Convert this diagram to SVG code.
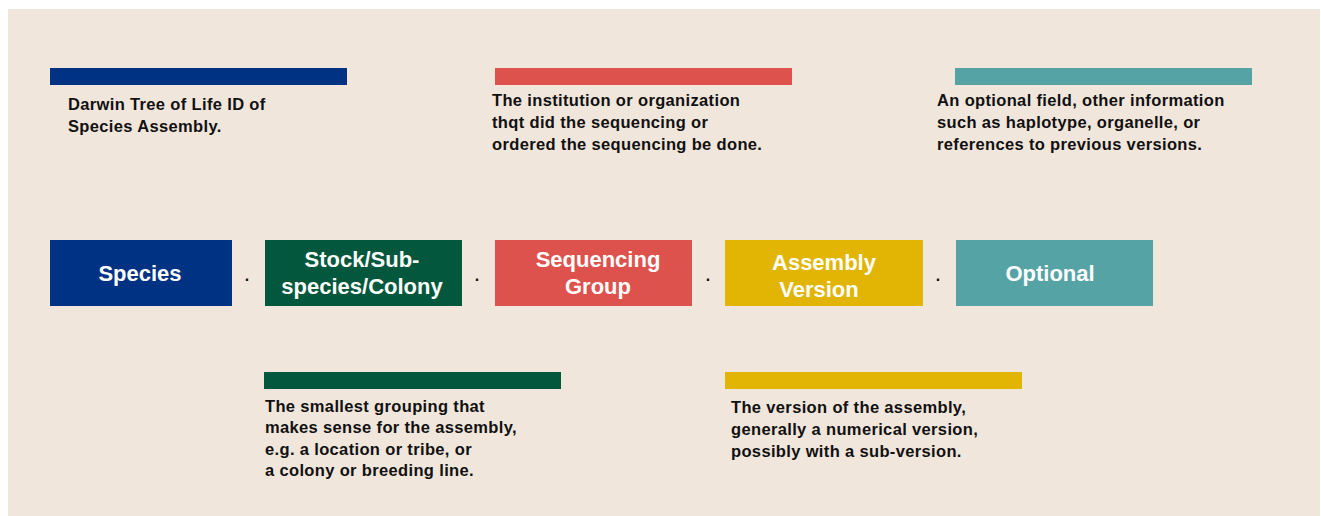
<svg xmlns="http://www.w3.org/2000/svg" width="1321" height="516" viewBox="0 0 1321 516">
<style>
.bg{fill:#F1E6DB}
.box-t{font-family:"Liberation Sans",Arial,sans-serif;font-weight:bold;font-size:22px;fill:#ffffff;text-anchor:middle}
.desc{font-family:"Liberation Sans",Arial,sans-serif;font-weight:bold;font-size:16.5px;letter-spacing:0.35px;fill:#111111}
.sep{font-family:"Liberation Sans",Arial,sans-serif;font-weight:bold;font-size:16px;fill:#111111;text-anchor:middle}
.blue{fill:#003283}.green{fill:#03573D}.red{fill:#DE524D}.yellow{fill:#E2B505}.teal{fill:#56A3A6}
</style>
<rect x="0" y="0" width="1321" height="516" fill="#ffffff"/>
<rect class="bg" x="8" y="9" width="1312" height="507"/>

<g id="species">
<rect class="blue" x="50" y="240" width="182" height="66"/>
<text class="box-t" x="140" y="281">Species</text>
</g>
<g id="stock">
<rect class="green" x="265" y="240" width="197" height="66"/>
<text class="box-t" x="362" y="267">Stock/Sub-</text>
<text class="box-t" x="362" y="294">species/Colony</text>
</g>
<g id="sequencing-group">
<rect class="red" x="495" y="240" width="197" height="66"/>
<text class="box-t" x="598" y="267">Sequencing</text>
<text class="box-t" x="598" y="294">Group</text>
</g>
<g id="assembly-version">
<rect class="yellow" x="725" y="240" width="198" height="66"/>
<text class="box-t" x="824" y="270">Assembly</text>
<text class="box-t" x="819" y="297">Version</text>
</g>
<g id="optional">
<rect class="teal" x="956" y="240" width="197" height="66"/>
<text class="box-t" x="1050" y="281">Optional</text>
</g>

<g id="connectors">
<text class="sep" x="247" y="281">.</text>
<text class="sep" x="477" y="281">.</text>
<text class="sep" x="708" y="281">.</text>
<text class="sep" x="938" y="281">.</text>
</g>

<g id="desc-species">
<rect class="blue" x="50" y="68" width="297" height="17"/>
<text class="desc" x="68" y="110">Darwin Tree of Life ID of</text>
<text class="desc" x="68" y="132">Species Assembly.</text>
</g>
<g id="desc-sequencing">
<rect class="red" x="495" y="68" width="297" height="17"/>
<text class="desc" x="492" y="106">The institution or organization</text>
<text class="desc" x="492" y="128">thqt did the sequencing or</text>
<text class="desc" x="492" y="149.5">ordered the sequencing be done.</text>
</g>
<g id="desc-optional">
<rect class="teal" x="955" y="68" width="297" height="17"/>
<text class="desc" x="937" y="106">An optional field, other information</text>
<text class="desc" x="937" y="128">such as haplotype, organelle, or</text>
<text class="desc" x="937" y="149.5">references to previous versions.</text>
</g>
<g id="desc-stock">
<rect class="green" x="264" y="372" width="297" height="17"/>
<text class="desc" x="265" y="411.5">The smallest grouping that</text>
<text class="desc" x="265" y="433">makes sense for the assembly,</text>
<text class="desc" x="265" y="454.5">e.g. a location or tribe, or</text>
<text class="desc" x="265" y="476">a colony or breeding line.</text>
</g>
<g id="desc-assembly">
<rect class="yellow" x="725" y="372" width="297" height="17"/>
<text class="desc" x="731" y="412.5">The version of the assembly,</text>
<text class="desc" x="731" y="434.5">generally a numerical version,</text>
<text class="desc" x="731" y="456.5">possibly with a sub-version.</text>
</g>
</svg>
